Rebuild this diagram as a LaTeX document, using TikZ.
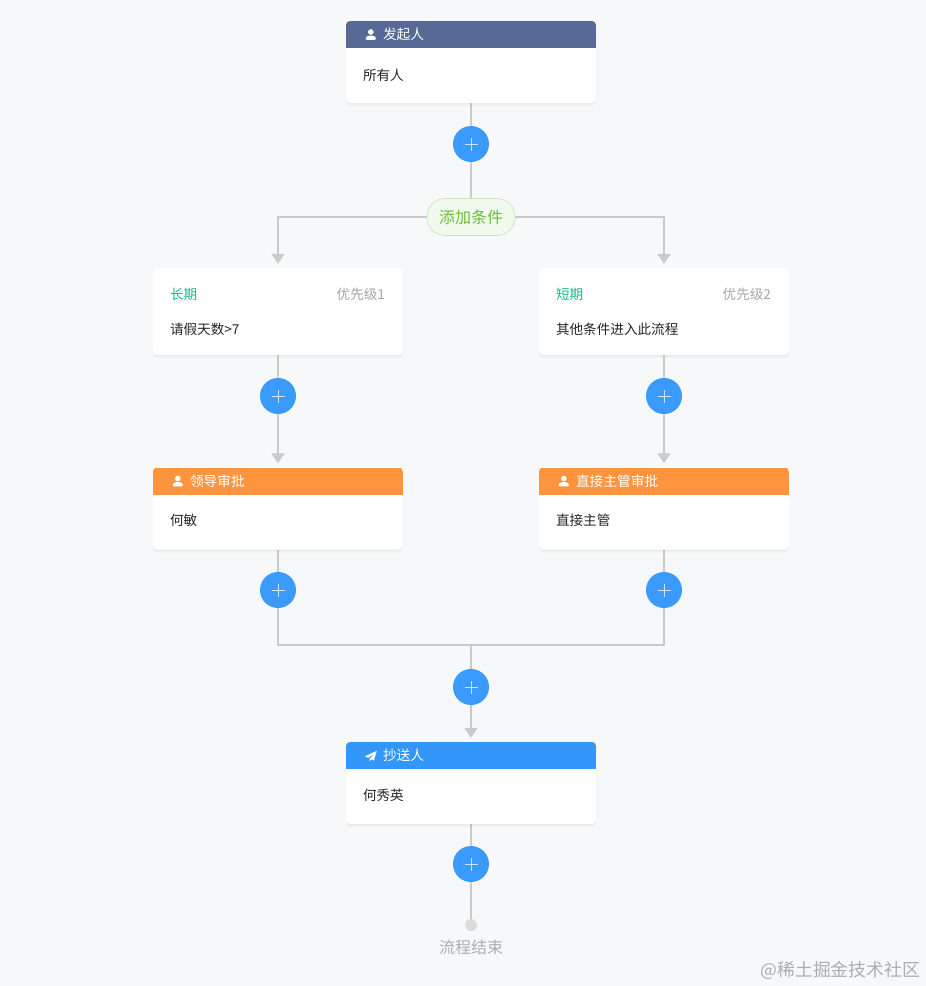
\documentclass[tikz,border=0pt]{standalone}
\usepackage{fontspec}
\usepackage{xcolor}
\setmainfont{Noto Sans CJK SC}
\usetikzlibrary{arrows.meta,positioning,shadows,backgrounds}
\definecolor{pagebg}{HTML}{F6F8FA}
\definecolor{linegray}{HTML}{CACACA}
\definecolor{startblue}{HTML}{576A95}
\definecolor{approveorange}{HTML}{FF943E}
\definecolor{copyblue}{HTML}{3296FA}
\definecolor{plusblue}{HTML}{3A9BFC}
\definecolor{tagfill}{HTML}{F0F9EB}
\definecolor{tagline}{HTML}{C2E7B0}
\definecolor{taggreen}{HTML}{67C23A}
\definecolor{condgreen}{HTML}{15BC83}

\begin{document}
\begin{tikzpicture}[x=1pt, y=-1pt,
  softshadow/.style={
    drop shadow={shadow xshift=0pt, shadow yshift=-0.5pt, opacity=0.025, fill=black},
    drop shadow={shadow xshift=0pt, shadow yshift=-1.5pt, opacity=0.02, fill=black},
    drop shadow={shadow xshift=0pt, shadow yshift=-2.5pt, opacity=0.015, fill=black},
    drop shadow={shadow xshift=0pt, shadow yshift=-3.5pt, opacity=0.01, fill=black}},
  card/.style={fill=white, rounded corners=4pt, minimum width=250pt, inner sep=0pt, softshadow},
  headcard/.style={card, minimum height=82pt, path picture={
    \fill[#1, sharp corners] (path picture bounding box.north west) rectangle ([yshift=-27pt]path picture bounding box.north east);}},
  headtext/.style={anchor=west, inner sep=0pt, text=white, font=\fontsize{13.7}{14}\selectfont},
  bodytext/.style={anchor=west, inner sep=0pt, text=black!85, font=\fontsize{13.6}{14}\selectfont},
  plusbtn/.style={circle, fill=plusblue, minimum size=36pt, inner sep=0pt, path picture={
    \draw[white, line width=0.9pt, opacity=0.75] ([xshift=-6.5pt]path picture bounding box.center) -- ([xshift=6.5pt]path picture bounding box.center);
    \draw[white, line width=0.9pt, opacity=0.75] ([yshift=-6.5pt]path picture bounding box.center) -- ([yshift=6.5pt]path picture bounding box.center);}},
  flow/.style={draw=linegray, line width=1.8pt},
  flowarrow/.style={flow, -{Triangle[width=13pt,length=10pt]}, shorten >=4pt},
  pics/usericon/.style={code={
    \fill[white] (0,-2.8) circle (2.8pt);
    \fill[white, rounded corners=1pt] (-5,5) -- (-5,2.2) -- (-2,0.8) -- (2,0.8) -- (5,2.2) -- (5,5) -- cycle;}},
  pics/planeicon/.style={code={
    \fill[white] (6,-5) -- (-6,0.5) -- (-2.6,2) -- (4,-2.6) -- (-1.2,3) -- (-1.2,5.5) -- (0.8,3.4) -- (3.2,4.6) -- cycle;}}]
  \useasboundingbox (0,0) rectangle (926,986);

  \node[headcard=startblue] (start) at (471,62) {};
  \pic at ([xshift=25pt,yshift=-14pt]start.north west) {usericon};
  \node[headtext] (startTitle) at ([xshift=37pt,yshift=-13.5pt]start.north west) {发起人};
  \node[bodytext] (startBody) at ([xshift=17pt,yshift=-54.5pt]start.north west) {所有人};

  \node[plusbtn] (plusTop) at (471,144) {};
  \node[fill=tagfill, draw=tagline, line width=0.6pt, rounded corners=18pt, minimum width=88pt, minimum height=37pt,
    inner sep=0pt, text=taggreen, font=\fontsize{16}{16}\selectfont] (addCond) at (471,217) {添加条件};

  \node[card, minimum height=87pt] (longCond) at (278,311.5) {};
  \node[bodytext, text=condgreen] (longName) at ([xshift=17pt,yshift=-27pt]longCond.north west) {长期};
  \node[bodytext, anchor=east, text=black!35] (longPrio) at ([xshift=-18pt,yshift=-27pt]longCond.north east) {优先级1};
  \node[bodytext] (longBody) at ([xshift=17pt,yshift=-61.5pt]longCond.north west) {请假天数>7};

  \node[card, minimum height=87pt] (shortCond) at (664,311.5) {};
  \node[bodytext, text=condgreen] (shortName) at ([xshift=17pt,yshift=-27pt]shortCond.north west) {短期};
  \node[bodytext, anchor=east, text=black!35] (shortPrio) at ([xshift=-18pt,yshift=-27pt]shortCond.north east) {优先级2};
  \node[bodytext] (shortBody) at ([xshift=17pt,yshift=-61.5pt]shortCond.north west) {其他条件进入此流程};

  \node[plusbtn] (plusLongA) at (278,396) {};
  \node[plusbtn] (plusShortA) at (664,396) {};

  \node[headcard=approveorange] (leader) at (278,508.5) {};
  \pic at ([xshift=25pt,yshift=-14pt]leader.north west) {usericon};
  \node[headtext] (leaderTitle) at ([xshift=37pt,yshift=-13.5pt]leader.north west) {领导审批};
  \node[bodytext] (leaderBody) at ([xshift=17pt,yshift=-53.5pt]leader.north west) {何敏};

  \node[headcard=approveorange] (manager) at (664,508.5) {};
  \pic at ([xshift=25pt,yshift=-14pt]manager.north west) {usericon};
  \node[headtext] (managerTitle) at ([xshift=37pt,yshift=-13.5pt]manager.north west) {直接主管审批};
  \node[bodytext] (managerBody) at ([xshift=17pt,yshift=-53.5pt]manager.north west) {直接主管};

  \node[plusbtn] (plusLongB) at (278,590) {};
  \node[plusbtn] (plusShortB) at (664,590) {};
  \coordinate (merge) at (471,645);
  \node[plusbtn] (plusMerge) at (471,687) {};

  \node[headcard=copyblue] (copy) at (471,783) {};
  \pic at ([xshift=25pt,yshift=-14pt]copy.north west) {planeicon};
  \node[headtext] (copyTitle) at ([xshift=37pt,yshift=-13.5pt]copy.north west) {抄送人};
  \node[bodytext] (copyBody) at ([xshift=17pt,yshift=-54pt]copy.north west) {何秀英};

  \node[plusbtn] (plusEnd) at (471,864) {};
  \node[circle, fill=black!14, minimum size=12pt, inner sep=0pt] (endDot) at (471,925) {};
  \node[below=9pt of endDot, inner sep=0pt, text=black!32, font=\fontsize{16}{16}\selectfont] (endText) {流程结束};
  \node[anchor=east, inner sep=0pt, text=black!32, font=\fontsize{17.8}{18}\selectfont] (mark) at (920,970) {@稀土掘金技术社区};

  \begin{scope}[on background layer]
    \fill[pagebg] (0,0) rectangle (926,986);
    \draw[flow] (start) -- (plusTop);
    \draw[flow] (plusTop) -- (addCond);
    \draw[flowarrow] (addCond) -| (longCond);
    \draw[flowarrow] (addCond) -| (shortCond);
    \draw[flow] (longCond) -- (plusLongA);
    \draw[flow] (shortCond) -- (plusShortA);
    \draw[flowarrow] (plusLongA) -- (leader);
    \draw[flowarrow] (plusShortA) -- (manager);
    \draw[flow] (leader) -- (plusLongB);
    \draw[flow] (manager) -- (plusShortB);
    \draw[flow] (plusLongB) |- (merge);
    \draw[flow] (plusShortB) |- (merge);
    \draw[flow] (merge) -- (plusMerge);
    \draw[flowarrow] (plusMerge) -- (copy);
    \draw[flow] (copy) -- (plusEnd);
    \draw[flow] (plusEnd) -- (endDot);
  \end{scope}
\end{tikzpicture}
\end{document}
